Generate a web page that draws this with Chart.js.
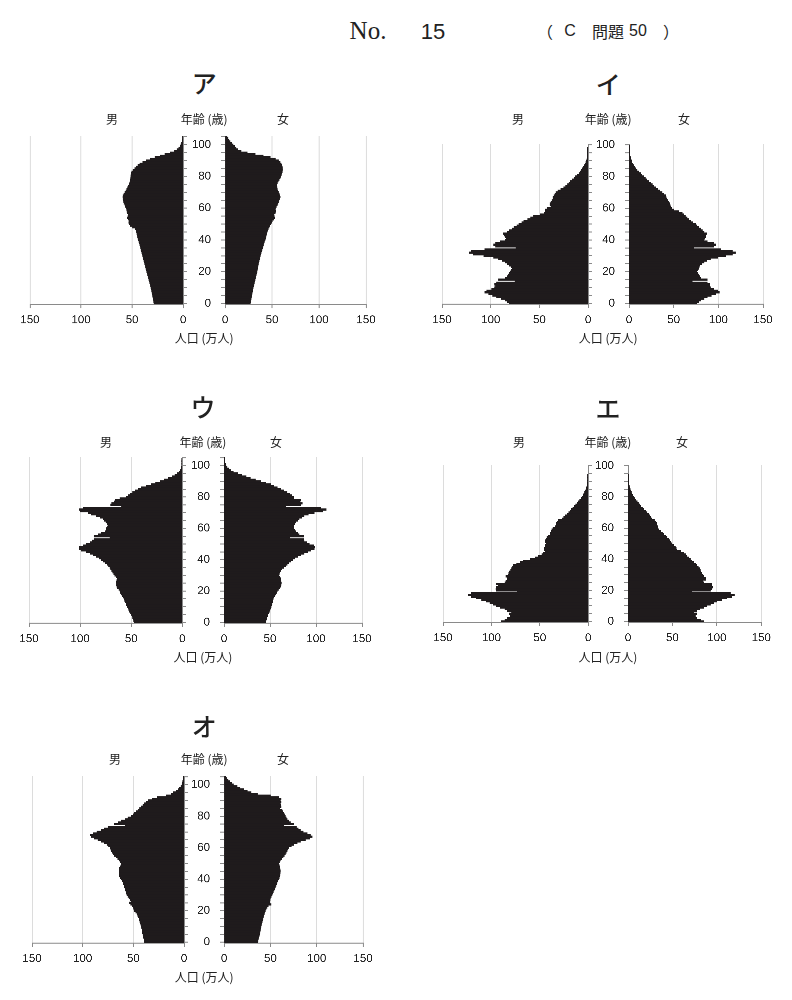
<!DOCTYPE html>
<html>
<head>
<meta charset="utf-8">
<script src="https://cdn.jsdelivr.net/npm/chart.js@4.4.1/dist/chart.umd.min.js"></script>
<style>
  body { margin: 0; width: 792px; height: 1000px; position: relative; overflow: hidden; background: #fff; color: #222; font-family: "Noto Sans CJK JP", sans-serif; }
  .box { position: absolute; }
  .t { position: absolute; transform: translate(-50%, -50%); white-space: nowrap; }
  .ttl { font-size: 25px; font-weight: 500; }
  .lab { font-size: 12px; }
  .hd { font-size: 16px; }
</style>
</head>
<body>

<div class="t" style="left:368px;top:31px;font-family:'Liberation Serif',serif;font-size:25px">No.</div>
<div class="t" style="left:433px;top:32px;font-family:'Liberation Sans',sans-serif;font-size:22px">15</div>
<div class="t hd" style="left:545px;top:31px">（</div>
<div class="t hd" style="left:570px;top:31px;font-family:'Liberation Sans',sans-serif">C</div>
<div class="t hd" style="left:608px;top:31px">問題</div>
<div class="t hd" style="left:638px;top:31px;font-family:'Liberation Sans',sans-serif">50</div>
<div class="t hd" style="left:671px;top:31px">）</div>

<script>
// ages on the vertical axis
const ages106 = [0,1,2,3,4,5,6,7,8,9,10,11,12,13,14,15,16,17,18,19,20,21,22,23,24,25,26,27,28,29,
  30,31,32,33,34,35,36,37,38,39,40,41,42,43,44,45,46,47,48,49,50,51,52,53,54,55,56,57,58,59,
  60,61,62,63,64,65,66,67,68,69,70,71,72,73,74,75,76,77,78,79,80,81,82,83,84,85,86,87,88,89,
  90,91,92,93,94,95,96,97,98,99,100,101,102,103,104,105];
const ages101 = [0,1,2,3,4,5,6,7,8,9,10,11,12,13,14,15,16,17,18,19,20,21,22,23,24,25,26,27,28,29,
  30,31,32,33,34,35,36,37,38,39,40,41,42,43,44,45,46,47,48,49,50,51,52,53,54,55,56,57,58,59,
  60,61,62,63,64,65,66,67,68,69,70,71,72,73,74,75,76,77,78,79,80,81,82,83,84,85,86,87,88,89,
  90,91,92,93,94,95,96,97,98,99,100];

// population by single age, 万人 (ア)
const maleA = [28.5,28.8,29.0,29.3,29.6,29.9,30.2,30.5,30.8,31.1,
  31.5,31.9,32.3,32.7,33.1,33.5,33.9,34.3,34.8,35.2,
  35.6,36.0,36.4,36.8,37.2,37.6,38.0,38.4,38.8,39.2,
  39.6,40.0,40.4,40.8,41.2,41.6,42.0,42.4,42.8,43.3,
  43.8,44.2,44.6,45.0,45.3,45.6,46.0,46.8,49.5,51.5,
  52.6,53.2,52.8,53.6,54.5,54.0,53.5,54.5,55.0,55.2,
  55.5,56.5,57.0,57.8,58.2,58.5,58.8,59.0,58.8,58.0,
  57.0,56.0,55.2,54.3,53.5,52.8,52.3,51.8,51.5,51.3,
  51.2,51.0,50.8,50.3,49.0,47.3,45.8,44.2,42.3,39.5,
  36.0,32.0,27.5,22.5,17.8,12.5,8.5,6.0,4.2,3.0,
  2.2,1.6,1.1,0.8,0.5,0.3];
const femaleA = [26.8,27.1,27.4,27.7,28.0,28.3,28.6,28.9,29.2,29.5,
  29.9,30.3,30.7,31.1,31.5,31.9,32.3,32.7,33.1,33.5,
  33.9,34.2,34.5,34.8,35.1,35.4,35.8,36.2,36.6,37.0,
  37.4,37.8,38.3,38.8,39.3,39.8,40.3,40.8,41.3,41.8,
  42.5,43.0,43.4,43.8,44.2,44.6,45.2,45.9,46.8,47.6,
  48.4,49.5,50.2,51.5,52.8,52.2,52.0,53.3,53.8,53.4,
  53.6,54.5,55.5,56.2,56.8,57.3,58.0,58.6,58.2,57.6,
  56.8,56.0,55.5,55.2,55.0,55.1,55.6,56.5,57.5,58.5,
  59.2,59.8,60.3,60.8,61.0,61.0,60.8,60.3,59.6,58.5,
  56.8,53.5,48.0,40.5,32.0,23.5,17.0,13.5,11.5,10.0,
  8.5,6.8,5.3,4.0,3.0,2.0];

// イ
const maleI = [81,83,85,89,94,98,102,106,104,99,
  96,95,96,94,75,92,85,83,82,81,
  80,79,78,79,81,83,85,88,92,97,
  107,118,122,120,106,74,95,97,95,90,
  85,84,85,86,87,83,81,78,76,73,
  71,68,66,62,59,56,49,45,44,44,
  42,38,39,39,38,37,36,36,35,34,
  33,31,28,25,23,21,19.6,18,16,14.4,
  12.8,11,9.3,8,7,5.8,4.8,3.8,3,2.3,
  1.7,1.2,0.7,0.5,0.3,0.2,0.1,0.1,0.1,0,0];
const femaleI = [76,78,80,84,87.5,92,97,101,99,95,
  91,90,90.5,87.5,70.7,87.5,80,79,78,77,
  76,77,78,78.5,79,81,84,87,91,99,
  108,115.6,119,115.6,102.5,72.6,95,97,95,87.5,
  84,85,85.7,86,86.8,84,82,80,78,76,
  74.4,71.5,68.8,67,65,63,61,59.5,55.7,50,
  48,46.4,46,45.6,44.5,43.4,42.5,41.5,40.8,39,
  37,34.5,32,30,27.7,26,24,22,20,18.2,
  16.5,14.5,12.7,10.8,9,7.5,6,5,4,3.3,
  2.6,2,1.5,1.1,0.7,0.5,0.3,0.2,0.1,0.1,0];

// ウ
const maleU = [47,47.5,48,48.5,49,49.6,50.5,51.5,52.3,53,
  53.8,54.5,55,55.5,56.3,57,57.5,58.5,59.5,60.3,
  61,62,63.6,64,64.2,64.2,64.5,64,63.6,64.5,
  66,67,68,69,70,70.8,72,73.5,75.6,77.5,
  79,81.5,83.8,87,90.3,93.6,98.5,100.7,100.7,96.8,
  93.6,90.3,87.7,86.4,70.8,86.4,82,79,75.6,74.5,
  74,73,72.4,73.5,74.7,76,77.3,80.5,83.8,88.7,
  92,100,100.7,96.8,59.3,70,69,66.8,65.8,61,
  55,53,51,48.5,46,43,39.8,35,30,26,
  21.8,17.5,13.7,10,7.2,5,3,2,1,0.7,
  0.4,0.3,0.2,0.1,0.1,0];
const femaleU = [45,45.5,46,46.6,47.1,47.6,48.3,49.2,50,50.6,
  51.2,51.7,52.2,52.6,53,53.4,54.2,55,56,56.9,
  57.8,59,60.5,61.5,62,62.2,62,61.7,61.5,60.5,
  59.6,60,60.8,61.5,63,65,66.8,68.6,70.6,72.5,
  74.3,77,79.8,83.5,87,90.8,94.4,98,98.8,97.3,
  92.6,89.8,87,86.4,71.7,86.4,81.6,79.8,78,77,
  76,75.7,75.4,76.5,78,79.8,81.6,84.3,87,91.5,
  98,107,111,105.4,67,83.4,85,82.7,83.4,76,
  75.4,73.5,71.7,68.5,65,61.5,57.8,54,50.5,45,
  39.5,34,28.5,24,19.4,14.5,10,7,4.8,3.3,
  2.2,1.5,1,0.6,0.4,0.2];

// エ
const maleE = [89.4,86,83.5,80.7,80.7,81.4,79,83.5,86,91,
  94.6,98,101.5,105,110,115.3,120.5,124,120.5,73,
  94.6,95.3,94.6,92.8,94.6,86,85,83.5,83.5,85,
  82.4,82,81.4,80,79,78,77.2,73.8,70.3,66.8,
  60,54.7,51.3,47.8,46,44.3,45.4,45,44.3,44,
  43.3,44,44.3,43.5,42.6,41,39,38.8,38.4,37.5,
  36.4,34,33,32.6,32.2,30.5,27,25.2,23.5,21.8,
  20,18.7,17.3,15.8,14.2,12.8,11.4,10,8.7,7.4,
  6.2,5.3,4.5,3.6,2.8,2.2,1.7,1.2,0.8,0.6,
  0.4,0.3,0.2,0.1,0.1,0,0,0,0,0,0];
const femaleE = [85,81.4,77.6,75.7,75.7,76.9,73.9,77.6,80.6,85,
  88.9,92.6,96.4,100,105.7,111.4,117,119.6,115.1,72,
  92.6,94.5,95.6,94.5,94.5,85,84.4,87,87,85,
  84.4,83.2,82,81.3,80.6,79,77.6,75.8,73.9,72,
  70.1,68.3,66.4,64.5,62.6,59.6,55.1,54.2,53.2,51.3,
  49.5,48.2,46.9,45.4,43.9,42,40.1,38.6,37.1,34.5,
  33.7,33.2,32.6,32,31.5,29.6,27,25.7,24.4,22.9,
  21.4,19.5,17.6,16.1,14.6,13.1,11.6,10.3,9,7.7,
  6.4,5.4,4.5,3.7,3,2.4,1.8,1.4,1,0.7,
  0.5,0.3,0.2,0.1,0.1,0,0,0,0,0,0];

// オ
const maleO = [38.8,39.1,39.4,39.8,40.1,40.5,40.8,41.1,41.4,41.7,
  42,42.5,43,43.5,44,44.4,44.9,45.6,46.4,47.5,
  48.7,49.5,50.3,51,52.5,53.6,52,53,54.3,55.3,
  56.3,56.8,57.2,57.6,58.1,58.6,59.1,59.6,60.2,61,
  61.8,62.6,63.5,63.8,64,64,63.8,63.5,62.8,62.2,
  61.8,62.8,64,65.3,66.8,68.5,70,71,71.7,72.2,
  72.7,74.3,76,78.3,81.6,84.9,88.2,91.4,92.4,89.8,
  85.9,81.6,78.3,75,57.6,69,65.1,61.8,57.6,55.3,
  52,50.3,48.7,47,45.4,43.7,42.1,40.5,38.8,37.2,
  35.5,31.3,26,17.4,12.5,10.2,7.6,5.8,4.3,3,
  2,1.6,1.2,0.9,0.6,0.3];
const femaleO = [36.1,36.5,36.9,37.4,37.8,38.3,38.6,38.9,39.2,39.5,
  39.8,40.2,40.6,41.1,41.5,41.9,42.4,42.9,43.4,44,
  44.5,45.3,46.3,47.6,50.6,49.2,49.3,49.6,49.9,50.8,
  51.7,52.4,53.1,53.9,54.6,55.3,56,56.6,57.1,58,
  58.9,59.5,60,60.3,60.5,60.7,60.5,60.2,60,59.4,
  58.9,59.8,60.7,62.2,63.6,64.9,66.1,67,68,68.9,
  69.8,72.5,75.2,78.8,82.4,87.8,92.5,95,93.2,89.6,
  85.3,82.4,79.9,78.1,64.3,75.2,71.6,69.8,68,67,
  66.1,65.2,64.3,63.4,62.5,60,61.4,61,60.7,61.4,
  60.7,61.4,58.9,50,36,29,25,21,17,14,
  10,8,5.8,4.2,2.9,1.8];

const INK = "#1f1b1c";
const NUM = "'Liberation Sans', Arial, sans-serif";

function addText(txt, x, y, cls) {
  const d = document.createElement("div");
  d.className = "t " + cls;
  d.style.left = x + "px";
  d.style.top = y + "px";
  d.textContent = txt;
  document.body.appendChild(d);
}

// one half of a pyramid; left/right/top/bottom are the plot area edges
function half(cats, values, side, left, right, top, bottom) {
  const isMale = side === "male";
  const padSide = 14, padT = 10, xH = 30;
  const axisW = isMale ? 4 : 40;
  const boxL = isMale ? left - padSide : left - axisW;
  const boxR = isMale ? right + axisW : right + padSide;

  const div = document.createElement("div");
  div.className = "box";
  div.style.left = boxL + "px";
  div.style.top = (top - padT) + "px";
  div.style.width = (boxR - boxL) + "px";
  div.style.height = (bottom + xH - top + padT) + "px";
  const cv = document.createElement("canvas");
  div.appendChild(cv);
  document.body.appendChild(div);

  new Chart(cv, {
    type: "bar",
    data: {
      labels: cats,
      datasets: [{
        data: values,
        backgroundColor: INK,
        borderWidth: 0,
        barPercentage: 1,
        categoryPercentage: 1,
        inflateAmount: 0.34
      }]
    },
    options: {
      indexAxis: "y",
      responsive: true,
      maintainAspectRatio: false,
      animation: false,
      devicePixelRatio: 3,
      layout: {
        padding: isMale ? { left: padSide, right: 0, top: padT, bottom: 0 }
                        : { left: 0, right: padSide, top: padT, bottom: 0 }
      },
      plugins: { legend: { display: false }, tooltip: { enabled: false } },
      scales: {
        x: {
          min: 0, max: 150, reverse: isMale,
          afterFit: s => { s.height = xH; s.paddingLeft = 0; s.paddingRight = 0; },
          ticks: { stepSize: 50, maxRotation: 0, autoSkip: false, padding: 5, color: "#222",
                   font: { family: NUM, size: 11.5 } },
          grid: { color: "#dcdcdc", tickColor: "#8a8a8a", tickLength: 4 },
          border: { color: "#8a8a8a" }
        },
        y: {
          position: isMale ? "right" : "left",
          reverse: true,
          afterFit: s => { s.width = axisW; s.paddingTop = 0; s.paddingBottom = 0; },
          ticks: {
            autoSkip: false, padding: 10, color: "#222",
            font: { family: NUM, size: 11.5 },
            callback: v => (!isMale && cats[v] % 20 === 0) ? String(cats[v]) : ""
          },
          grid: {
            drawOnChartArea: false, offset: false, tickLength: 4,
            tickColor: ctx => (cats[ctx.index] % 5 === 0 ? "#8a8a8a" : "rgba(0,0,0,0)")
          },
          border: { color: "#8a8a8a" }
        }
      }
    }
  });
}

function pyramid(p) {
  half(p.ages, p.male, "male", p.mL, p.mR, p.top, p.bottom);
  half(p.ages, p.female, "female", p.fL, p.fR, p.top, p.bottom);
  const mid = (p.mR + p.fL) / 2;
  addText(p.title, mid, p.titleY, "ttl");
  addText("男", p.manX, p.headY, "lab");
  addText("年齢 (歳)", mid, p.headY, "lab");
  addText("女", p.womanX, p.headY, "lab");
  addText("人口 (万人)", mid, p.bottom + 33, "lab");
}

pyramid({ title: "ア", ages: ages106, male: maleA, female: femaleA,
  mL: 29.5, mR: 183.3, fL: 225, fR: 365.7, top: 135.6, bottom: 304.1,
  titleY: 82, headY: 118, manX: 112, womanX: 283 });
pyramid({ title: "イ", ages: ages101, male: maleI, female: femaleI,
  mL: 442, mR: 587.8, fL: 628.5, fR: 762.5, top: 144.2, bottom: 304.1,
  titleY: 83, headY: 118, manX: 518, womanX: 684 });
pyramid({ title: "ウ", ages: ages106, male: maleU, female: femaleU,
  mL: 28.7, mR: 182, fL: 224, fR: 362, top: 457.4, bottom: 623.3,
  titleY: 406, headY: 441, manX: 106, womanX: 276 });
pyramid({ title: "エ", ages: ages101, male: maleE, female: femaleE,
  mL: 443, mR: 588.2, fL: 627.7, fR: 761, top: 465.2, bottom: 622.5,
  titleY: 407, headY: 441, manX: 519, womanX: 682 });
pyramid({ title: "オ", ages: ages106, male: maleO, female: femaleO,
  mL: 32.3, mR: 184.3, fL: 224, fR: 362.7, top: 776.4, bottom: 942.8,
  titleY: 725, headY: 758, manX: 115, womanX: 283 });
</script>
</body>
</html>
